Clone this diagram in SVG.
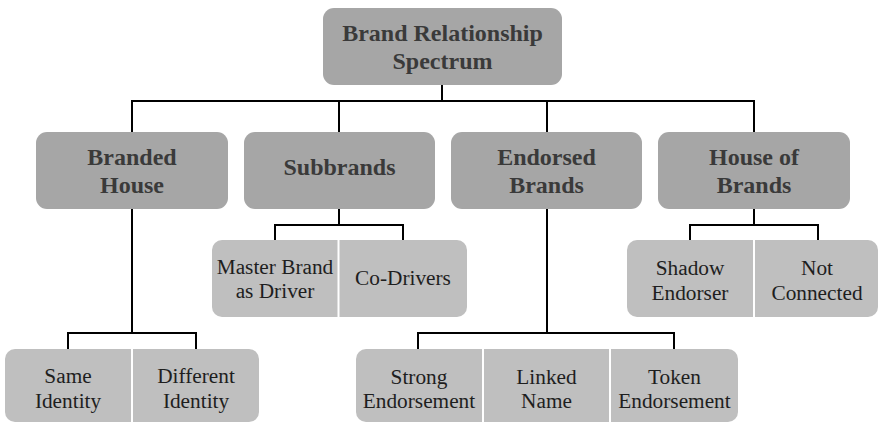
<svg xmlns="http://www.w3.org/2000/svg" width="879" height="424" viewBox="0 0 879 424">
<style>
.main{fill:#a6a6a6}
.sub{fill:#bfbfbf}
.bt{font-weight:bold;font-size:24px;fill:#3a3a3a;text-anchor:middle}
.rt{font-size:21.3px;fill:#1e1e1e;text-anchor:middle}
.conn{fill:none;stroke:#000;stroke-width:2;stroke-linecap:square}
</style>
<rect width="879" height="424" fill="#fff"/>
<g id="connectors">
<path class="conn" d="M442 85V101M132 101H754M132 101V132M339 101V132M547 101V132M754 101V132"/>
<path class="conn" d="M132 209V333M68 333H196M68 333V349M196 333V349"/>
<path class="conn" d="M339 209V225M275 225H403M275 225V240M403 225V240"/>
<path class="conn" d="M547 209V333M418 333H674M418 333V349M674 333V349"/>
<path class="conn" d="M754 209V225M690 225H818M690 225V240M818 225V240"/>
</g>
<g id="root">
<rect class="main" x="323" y="8" width="239" height="77" rx="11"/>
<text class="bt" x="442.5" y="41" style="font-family:'Liberation Serif'">Brand Relationship</text>
<text class="bt" x="442.5" y="69" style="font-family:'Liberation Serif'">Spectrum</text>
</g>
<g id="branded-house">
<rect class="main" x="36" y="132" width="192" height="77" rx="11"/>
<text class="bt" x="132" y="165" style="font-family:'Liberation Serif'">Branded</text>
<text class="bt" x="132" y="193" style="font-family:'Liberation Serif'">House</text>
</g>
<g id="subbrands">
<rect class="main" x="244" y="132" width="191" height="77" rx="11"/>
<text class="bt" x="339.5" y="175" style="font-family:'Liberation Serif'">Subbrands</text>
</g>
<g id="endorsed-brands">
<rect class="main" x="451" y="132" width="191" height="77" rx="11"/>
<text class="bt" x="546.5" y="165" style="font-family:'Liberation Serif'">Endorsed</text>
<text class="bt" x="546.5" y="193" style="font-family:'Liberation Serif'">Brands</text>
</g>
<g id="house-of-brands">
<rect class="main" x="658" y="132" width="192" height="77" rx="11"/>
<text class="bt" x="754" y="165" style="font-family:'Liberation Serif'">House of</text>
<text class="bt" x="754" y="193" style="font-family:'Liberation Serif'">Brands</text>
</g>
<g id="same-identity">
<path class="sub" d="M131 349H15A10 10 0 0 0 5 359V412A10 10 0 0 0 15 422H131Z"/>
<text class="rt" x="68" y="383" style="font-family:'Liberation Serif'">Same</text>
<text class="rt" x="68" y="408" style="font-family:'Liberation Serif'">Identity</text>
</g>
<g id="different-identity">
<path class="sub" d="M133 349H249A10 10 0 0 1 259 359V412A10 10 0 0 1 249 422H133Z"/>
<text class="rt" x="196" y="383" style="font-family:'Liberation Serif'">Different</text>
<text class="rt" x="196" y="408" style="font-family:'Liberation Serif'">Identity</text>
</g>
<g id="master-brand-as-driver">
<path class="sub" d="M337.5 240H222A10 10 0 0 0 212 250V307A10 10 0 0 0 222 317H337.5Z"/>
<text class="rt" x="275" y="274" style="font-family:'Liberation Serif'">Master Brand</text>
<text class="rt" x="275" y="298" style="font-family:'Liberation Serif'">as Driver</text>
</g>
<g id="co-drivers">
<path class="sub" d="M339.5 240H457A10 10 0 0 1 467 250V307A10 10 0 0 1 457 317H339.5Z"/>
<text class="rt" x="403" y="285" style="font-family:'Liberation Serif'">Co-Drivers</text>
</g>
<g id="strong-endorsement">
<path class="sub" d="M482 349H366A10 10 0 0 0 356 359V412A10 10 0 0 0 366 422H482Z"/>
<text class="rt" x="419" y="384" style="font-family:'Liberation Serif'">Strong</text>
<text class="rt" x="419" y="408" style="font-family:'Liberation Serif'">Endorsement</text>
</g>
<g id="linked-name">
<rect class="sub" x="484" y="349" width="125" height="73"/>
<text class="rt" x="546.5" y="384" style="font-family:'Liberation Serif'">Linked</text>
<text class="rt" x="546.5" y="408" style="font-family:'Liberation Serif'">Name</text>
</g>
<g id="token-endorsement">
<path class="sub" d="M611 349H728A10 10 0 0 1 738 359V412A10 10 0 0 1 728 422H611Z"/>
<text class="rt" x="674.5" y="384" style="font-family:'Liberation Serif'">Token</text>
<text class="rt" x="674.5" y="408" style="font-family:'Liberation Serif'">Endorsement</text>
</g>
<g id="shadow-endorser">
<path class="sub" d="M753 240H637A10 10 0 0 0 627 250V307A10 10 0 0 0 637 317H753Z"/>
<text class="rt" x="690" y="275" style="font-family:'Liberation Serif'">Shadow</text>
<text class="rt" x="690" y="300" style="font-family:'Liberation Serif'">Endorser</text>
</g>
<g id="not-connected">
<path class="sub" d="M755 240H868A10 10 0 0 1 878 250V307A10 10 0 0 1 868 317H755Z"/>
<text class="rt" x="817" y="275" style="font-family:'Liberation Serif'">Not</text>
<text class="rt" x="817" y="300" style="font-family:'Liberation Serif'">Connected</text>
</g>
</svg>
